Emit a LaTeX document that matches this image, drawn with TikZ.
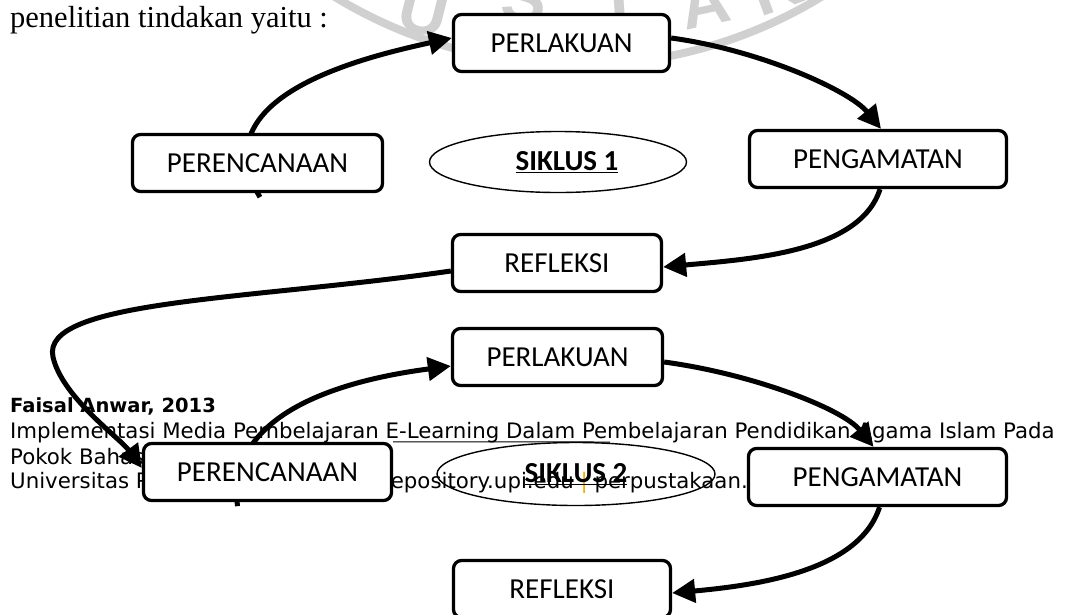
\documentclass[tikz,border=0pt]{standalone}
\usepackage{fontspec}
\setmainfont{Liberation Serif}
\newfontfamily\boxfont{Carlito}
\newfontfamily\footfont{DejaVu Sans}
\newfontfamily\wmfont{Liberation Sans}
\usetikzlibrary{arrows.meta,shapes.geometric}
\pgfdeclarelayer{wm}
\pgfdeclarelayer{conn}
\pgfsetlayers{wm,conn,main}
\definecolor{wmgray}{RGB}{208,208,208}
\definecolor{sepor}{RGB}{240,176,0}
\begin{document}
\begin{tikzpicture}[x=1pt,y=-1pt,
  box/.style={draw, line width=3.3pt, rounded corners=8pt, fill=white, minimum height=57pt, inner sep=0pt, font=\boxfont\fontsize{29}{34}\selectfont},
  cyc/.style={draw, ellipse, line width=1.4pt, inner sep=0pt, font=\boxfont\bfseries\fontsize{29}{34}\selectfont},
  flow/.style={line width=5pt, -{Triangle[length=23pt,width=23pt]}},
  foot/.style={anchor=base west, inner sep=0pt, font=\footfont\fontsize{21.3}{25}\selectfont},
  wmletter/.style={text=wmgray, font=\wmfont\bfseries\fontsize{68}{68}\selectfont, anchor=south, inner sep=0pt}
]
\useasboundingbox (0,0) rectangle (1067,614);

% header text
\node[anchor=base west, inner sep=0pt, font=\fontsize{30.5}{36}\selectfont] (hd) at (10,27) {penelitian tindakan yaitu :};

% boxes
\node[box, minimum width=216pt] (l1) at (561.5,43) {PERLAKUAN};
\node[box, minimum width=250pt] (p1) at (257.5,163) {PERENCANAAN};
\node[cyc, minimum width=257pt, minimum height=61pt] (e1) at (558,162) {\hspace*{18pt}\underline{SIKLUS 1}};
\node[box, minimum width=257pt] (g1) at (878,159) {PENGAMATAN};
\node[box, minimum width=209pt] (r1) at (557,263) {REFLEKSI};

\node[box, minimum width=210pt] (l2) at (557.5,357) {PERLAKUAN};
\node[box, minimum width=248pt] (p2) at (267.5,472) {PERENCANAAN};
\node[cyc, minimum width=278pt, minimum height=63pt] (e2) at (576,474) {\underline{SIKLUS 2}};
\node[box, minimum width=258pt] (g2) at (877.5,477) {PENGAMATAN};
\node[box, minimum width=217pt] (r2) at (562,589) {REFLEKSI};

\coordinate (lp) at (53,357);
\coordinate (ul) at (610,442);

\begin{pgfonlayer}{wm}
\draw[wmgray, line width=8pt] (578,-403) circle[radius=468pt];
\node[wmletter, rotate=-14] (wu) at (418,34) {U};
\node[wmletter, rotate=-5] (ws) at (522,22) {S};
\node[wmletter, rotate=4] (wt) at (620,15) {T};
\node[wmletter, rotate=12] (wa) at (710,26) {A};
\node[wmletter, rotate=20] (wk) at (784,9) {K};
\node[foot, font=\footfont\bfseries\fontsize{19.5}{23}\selectfont] (f1) at (10,412) {Faisal Anwar, 2013};
\node[foot] (f2) at (10,438) {Implementasi Media Pembelajaran E-Learning Dalam Pembelajaran Pendidikan Agama Islam Pada};
\node[foot] (f3) at (10,464) {Pokok Bahasan};
\node[foot] (f4) at (10,488) {Universitas Pendidikan Indonesia {\color{sepor}|} repository.upi.edu {\color{sepor}|} perpustakaan.upi.edu};
\end{pgfonlayer}

\begin{pgfonlayer}{conn}
\draw[line width=1pt] (p2.north east) -- (ul);
\draw[flow] ([xshift=2.5pt,yshift=-4pt]p1.south) .. controls +(-60,-100) and +(-92,20) .. ([yshift=5pt]l1.west);
\draw[flow] ([yshift=5pt]l1.east) .. controls +(89,12) and +(-31,-38) .. ([xshift=3pt]g1.north);
\draw[flow] ([xshift=2pt]g1.south) .. controls +(-20,63) and +(88,-8) .. ([yshift=-4pt]r1.east);
\draw[flow] ([yshift=-8pt]r1.west) .. controls +(-201,29) and +(-13,-57) .. (lp) .. controls +(9,40) and +(-22,-30) .. ([yshift=4pt]p2.west);
\draw[flow] ([xshift=-30pt,yshift=-4pt]p2.south) .. controls +(-12,-100) and +(-91,12) .. ([yshift=-9pt]l2.west);
\draw[flow] ([yshift=-5pt]l2.east) .. controls +(89,12) and +(-31,-38) .. ([xshift=-4pt]g2.north);
\draw[flow] ([xshift=2pt]g2.south) .. controls +(-20,63) and +(88,-8) .. ([yshift=-4pt]r2.east);
\end{pgfonlayer}
\end{tikzpicture}
\end{document}
